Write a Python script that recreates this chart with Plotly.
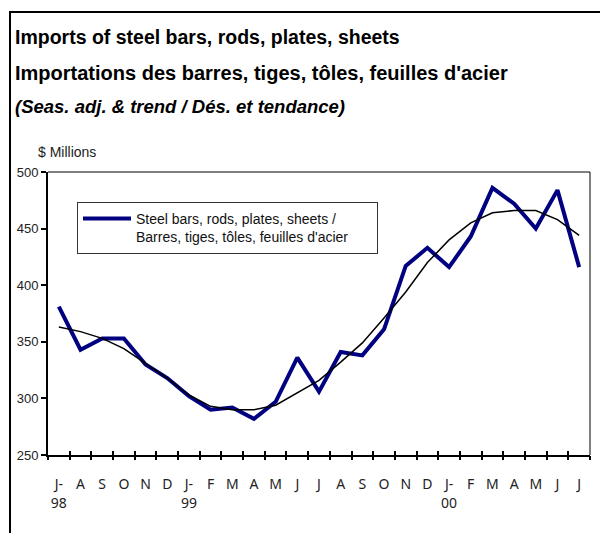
import plotly.graph_objects as go

months = ["J-", "A", "S", "O", "N", "D", "J-", "F", "M", "A", "M", "J",
          "J", "A", "S", "O", "N", "D", "J-", "F", "M", "A", "M", "J", "J"]
years = ["98", "99", "00"]
year_pos = [0, 6, 18]
cat_keys = list(range(len(months)))

steel = [381, 343, 353, 353, 330, 318, 302, 290, 292, 282, 297, 336,
         306, 341, 338, 361, 417, 433, 416, 443, 486, 472, 450, 484, 416]
trend = [363, 359, 353, 344, 331, 318, 303, 293, 290, 290, 294, 305,
         316, 332, 349, 371, 394, 420, 440, 455, 464, 466, 466, 458, 444]

y_ticks = [250, 300, 350, 400, 450, 500]

legend_label = ("Steel bars, rods, plates, sheets /<br>"
                "Barres, tiges, tôles, feuilles d'acier" + "\u00a0" * 6)

fig = go.Figure()
fig.add_trace(go.Scatter(x=cat_keys, y=steel, mode="lines", name=legend_label,
                         line=dict(color="#000080", width=4)))
fig.add_trace(go.Scatter(x=cat_keys, y=trend, mode="lines", showlegend=False,
                         line=dict(color="#000000", width=1.5)))

# body margin is removed by post_script, so figure pixels == screen pixels
W, H = 600, 533
L, T, R, B = 48, 172, 10, 78
pw, ph = W - L - R, H - T - B

def px(xs):
    return (xs - L) / pw

def py(ys):
    return (H - B - ys) / ph

n = len(months)
rng = [-0.5, n - 0.5]
bounds = [i - 0.5 for i in range(n + 1)]
xfont = dict(family="Noto Sans, sans-serif", size=14, color="#222")

fig.update_layout(
    width=W, height=H,
    margin=dict(l=L, r=R, t=T, b=B, pad=0),
    paper_bgcolor="white", plot_bgcolor="white",
    font=dict(family="Liberation Sans, Arial, sans-serif", size=12, color="black"),
    showlegend=True,
    legend=dict(x=px(77), y=py(202), xanchor="left", yanchor="top",
                bgcolor="white", bordercolor="#333333", borderwidth=1,
                font=dict(size=14, family="Liberation Sans, Arial, sans-serif", color="#111"),
                itemwidth=48, valign="top", tracegroupgap=0),
    xaxis=dict(
        type="linear", range=rng,
        tickmode="array", tickvals=cat_keys, ticktext=months,
        showgrid=False, zeroline=False,
        showline=True, linecolor="black", linewidth=2,
        ticks="", tickfont=xfont, ticklabelstandoff=15,
    ),
    xaxis2=dict(
        overlaying="x", matches="x", range=rng,
        tickmode="array", tickvals=bounds,
        showticklabels=False, ticks="outside", ticklen=4, tickwidth=1.5, tickcolor="black",
        showgrid=False, zeroline=False, showline=False, anchor="y",
    ),
    xaxis3=dict(
        overlaying="x", matches="x", range=rng,
        tickmode="array", tickvals=bounds,
        showticklabels=False, ticks="inside", ticklen=4, tickwidth=1.5, tickcolor="black",
        showgrid=False, zeroline=False, showline=False, anchor="y",
    ),
    xaxis4=dict(
        overlaying="x", matches="x", range=rng,
        tickmode="array", tickvals=year_pos, ticktext=years,
        ticks="", tickfont=xfont, ticklabelstandoff=38,
        showgrid=False, zeroline=False, showline=False, anchor="y",
    ),
    yaxis=dict(
        range=[250, 500], tickmode="array", tickvals=y_ticks,
        showgrid=False, zeroline=False,
        showline=True, linecolor="black", linewidth=2,
        ticks="outside", ticklen=5, tickwidth=1.5, tickcolor="black",
        tickfont=dict(size=13, family="Liberation Sans, Arial, sans-serif", color="#222"),
    ),
)

for ax in ["x2", "x3", "x4"]:
    fig.add_trace(go.Scatter(x=[0], y=[None], xaxis=ax, showlegend=False, hoverinfo="skip"))

shapes = [
    dict(type="line", xref="paper", yref="paper", x0=0, x1=1, y0=1, y1=1,
         line=dict(color="black", width=1)),
    dict(type="line", xref="paper", yref="paper", x0=1, x1=1, y0=0, y1=1,
         line=dict(color="black", width=1)),
    # outer chart frame (right/bottom edges lie outside the page)
    dict(type="rect", xref="paper", yref="paper", x0=px(10), x1=px(640),
         y0=py(600), y1=py(12), line=dict(color="black", width=2), layer="below"),
]
fig.update_layout(shapes=shapes)

title_font = "Liberation Sans, Arial, sans-serif"
annotations = [
    dict(text="<b>Imports of steel bars, rods, plates, sheets</b>", x=px(13), y=py(37), size=19.5),
    dict(text="<b>Importations des barres, tiges, tôles, feuilles d'acier</b>", x=px(13), y=py(73), size=20),
    dict(text="<b><i>(Seas. adj. &amp; trend / Dés. et tendance)</i></b>", x=px(13), y=py(107), size=18.5),
]
for a in annotations:
    s = a.pop("size")
    a.update(xref="paper", yref="paper", xanchor="left", yanchor="middle",
             showarrow=False, font=dict(family=title_font, size=s, color="black"))
annotations.append(dict(text="$ Millions", xref="paper", yref="paper", x=px(36), y=py(152),
                        xanchor="left", yanchor="middle", showarrow=False,
                        font=dict(family=title_font, size=14, color="#222")))
fig.update_layout(annotations=annotations)

fig.write_html("out.html", config={"displayModeBar": False},
               post_script="document.body.style.margin='0';document.body.style.overflow='hidden';")
